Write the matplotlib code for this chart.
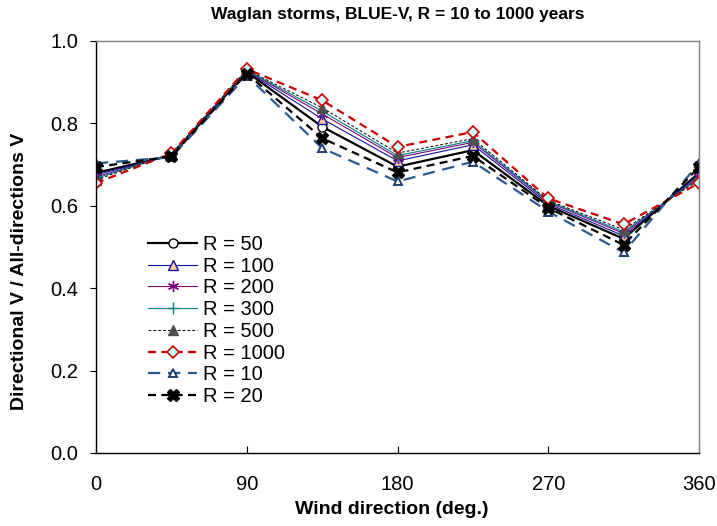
import numpy as np
import matplotlib
matplotlib.use("Agg")
import matplotlib.pyplot as plt
from matplotlib import font_manager

# wind directions (deg.) and directional / all-directions ratio per return period
direction = [0, 45, 90, 135, 180, 225, 270, 315, 360]

r50 = [0.680, 0.722, 0.925, 0.792, 0.695, 0.735, 0.600, 0.520, 0.680]
r100 = [0.675, 0.723, 0.927, 0.811, 0.709, 0.748, 0.605, 0.527, 0.675]
r200 = [0.670, 0.724, 0.928, 0.823, 0.717, 0.754, 0.609, 0.533, 0.670]
r300 = [0.667, 0.725, 0.929, 0.830, 0.722, 0.758, 0.611, 0.537, 0.667]
r500 = [0.663, 0.726, 0.930, 0.838, 0.728, 0.763, 0.613, 0.542, 0.663]
r1000 = [0.655, 0.727, 0.932, 0.856, 0.743, 0.779, 0.618, 0.555, 0.655]
r10 = [0.703, 0.718, 0.916, 0.740, 0.659, 0.707, 0.586, 0.487, 0.703]
r20 = [0.694, 0.720, 0.921, 0.764, 0.681, 0.721, 0.595, 0.505, 0.694]

labels = ["R = 50", "R = 100", "R = 200", "R = 300", "R = 500",
          "R = 1000", "R = 10", "R = 20"]

names = {f.name for f in font_manager.fontManager.ttflist}
plt.rcParams["font.family"] = ["Liberation Sans", "DejaVu Sans"]
title_font = "Liberation Sans Narrow" if "Liberation Sans Narrow" in names else "Liberation Sans"

fig = plt.figure(figsize=(7.17, 5.26), dpi=100)
ax = fig.add_axes([96 / 717, 73 / 526, 603 / 717, 412 / 526])

ax.plot(direction, r50, color="black", lw=1.6, marker="o", ms=6.5,
        mfc="white", mec="black", mew=1.0, label=labels[0])
ax.plot(direction, r100, color="#1010a0", lw=0.8, marker="^", ms=7.5,
        mfc="#ffcc99", mec="#1010a0", mew=1.0, label=labels[1])
ax.plot(direction, r200, color="#800080", lw=0.8, marker=(6, 2, 0), ms=8,
        mec="#800080", mew=1.0, label=labels[2])
ax.plot(direction, r300, color="#008080", lw=0.8, marker="+", ms=8,
        mec="#008080", mew=1.0, label=labels[3])
ax.plot(direction, r500, color="black", lw=0.7, ls=(0, (3, 2)), marker="^",
        ms=7.5, mfc="#505050", mec="#505050", label=labels[4])
ax.plot(direction, r1000, color="#cc0000", lw=1.6, ls=(0, (3.6, 2.4)),
        marker="D", ms=6, mfc="#ccffff", mec="#cc0000", mew=1.2,
        label=labels[5])
ax.plot(direction, r10, color="#2a5a8c", lw=1.6, ls=(0, (5.5, 3.5)),
        marker="^", ms=5.5, mfc="white", mec="#1f3f6f", mew=1.4,
        label=labels[6])
ax.plot(direction, r20, color="black", lw=1.6, ls=(0, (3.6, 2.4)),
        marker="X", ms=8, mfc="black", mec="black", label=labels[7])

ax.set_xlim(0, 360)
ax.set_ylim(0, 1.0)
ax.set_xticks([0, 90, 180, 270, 360])
ax.set_yticks(np.arange(0, 1.01, 0.2))
ax.yaxis.set_major_formatter(matplotlib.ticker.FormatStrFormatter("%.1f"))
ax.tick_params(axis="x", direction="in", length=5, pad=16, labelsize=14.5)
ax.tick_params(axis="y", direction="out", length=4.5, pad=8.5, labelsize=14.5)
for s in ["top", "right"]:
    ax.spines[s].set_color("#808080")
for s in ax.spines.values():
    s.set_linewidth(1.0)

fig.text(392 / 717, 1 - 510 / 526, "Wind direction (deg.)", fontsize=14,
         fontweight="bold", ha="center", va="center")
fig.text(20 / 717, 1 - 271 / 526, "Directional V / All-directions V",
         fontsize=14, fontweight="bold", ha="center", va="center",
         rotation=90)
fig.text(0.5 * (96 + 699) / 717, 1 - 14 / 526,
         "Waglan storms, BLUE-V, R = 10 to 1000 years",
         ha="center", va="center", fontsize=12.5, fontweight="bold",
         family=[title_font, "DejaVu Sans"])

ax.legend(loc="upper left", bbox_to_anchor=(148 / 717, 1 - 235 / 526),
          bbox_transform=fig.transFigure, frameon=False, fontsize=14.5,
          handlelength=2.45, handletextpad=0.3, labelspacing=0.135,
          borderpad=0, borderaxespad=0)

fig.savefig("out.png", dpi=100)
